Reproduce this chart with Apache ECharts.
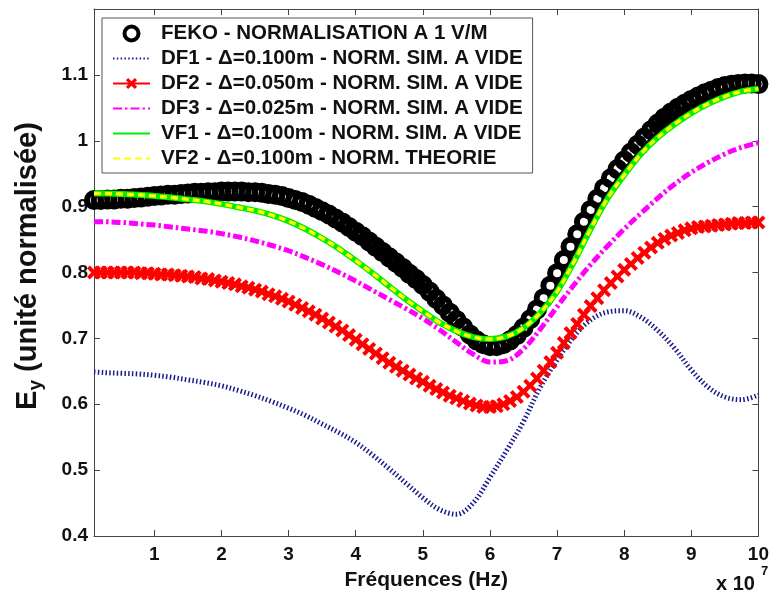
<!DOCTYPE html>
<html>
<head>
<meta charset="utf-8">
<script src="https://cdn.jsdelivr.net/npm/echarts@6/dist/echarts.min.js"></script>
<style>html,body{margin:0;padding:0;background:#fff}#c{width:772px;height:596px}</style>
</head>
<body>
<div id="c"></div>
<script>
// x in units of 1e7 Hz
const fekoX = [0.1,0.2,0.3,0.4,0.5,0.6,0.7,0.8,0.9,1.0,1.1,1.2,1.3,1.4,1.5,1.6,1.7,1.8,1.9,2.0,2.1,2.2,2.3,2.4,2.5,2.6,2.7,2.8,2.9,3.0,3.1,3.2,3.3,3.4,3.5,3.6,3.7,3.8,3.9,4.0,4.1,4.2,4.3,4.4,4.5,4.6,4.7,4.8,4.9,5.0,5.1,5.2,5.3,5.4,5.5,5.6,5.7,5.8,5.9,6.0,6.1,6.2,6.3,6.4,6.5,6.6,6.7,6.8,6.9,7.0,7.1,7.2,7.3,7.4,7.5,7.6,7.7,7.8,7.9,8.0,8.1,8.2,8.3,8.4,8.5,8.6,8.7,8.8,8.9,9.0,9.1,9.2,9.3,9.4,9.5,9.6,9.7,9.8,9.9,10.0];
const fekoValues = [0.910,0.910,0.911,0.911,0.912,0.912,0.913,0.914,0.915,0.916,0.917,0.918,0.918,0.919,0.920,0.921,0.921,0.922,0.922,0.923,0.923,0.923,0.923,0.922,0.922,0.921,0.919,0.918,0.916,0.913,0.910,0.907,0.903,0.898,0.893,0.888,0.882,0.876,0.869,0.862,0.855,0.847,0.839,0.831,0.823,0.815,0.807,0.798,0.790,0.781,0.771,0.760,0.750,0.739,0.728,0.717,0.706,0.697,0.691,0.688,0.688,0.691,0.697,0.705,0.716,0.729,0.744,0.761,0.780,0.799,0.819,0.839,0.858,0.877,0.895,0.912,0.928,0.943,0.957,0.970,0.982,0.994,1.005,1.016,1.026,1.035,1.043,1.050,1.056,1.062,1.067,1.072,1.076,1.080,1.083,1.085,1.086,1.087,1.087,1.086];
const df2Values = [0.800,0.800,0.800,0.800,0.800,0.800,0.800,0.799,0.799,0.798,0.797,0.797,0.796,0.795,0.794,0.793,0.791,0.790,0.788,0.786,0.784,0.782,0.779,0.777,0.774,0.771,0.767,0.764,0.760,0.756,0.751,0.746,0.741,0.736,0.730,0.724,0.718,0.712,0.705,0.698,0.691,0.684,0.677,0.670,0.663,0.657,0.651,0.645,0.639,0.634,0.628,0.623,0.618,0.613,0.609,0.605,0.601,0.598,0.596,0.596,0.597,0.600,0.605,0.611,0.619,0.628,0.639,0.651,0.664,0.678,0.693,0.708,0.722,0.736,0.749,0.761,0.773,0.784,0.794,0.804,0.813,0.822,0.830,0.838,0.845,0.851,0.856,0.860,0.864,0.867,0.869,0.870,0.871,0.872,0.873,0.874,0.875,0.875,0.876,0.876];

const lineX = [0.1,0.25,0.5,0.75,1,1.25,1.5,1.75,2,2.25,2.5,2.75,3,3.25,3.5,3.75,4,4.25,4.5,4.75,5,5.25,5.5,5.75,6,6.25,6.5,6.75,7,7.25,7.5,7.75,8,8.25,8.5,8.75,9,9.25,9.5,9.75,10];
const df1Values = [0.649,0.648,0.647,0.646,0.644,0.641,0.637,0.633,0.628,0.621,0.613,0.604,0.594,0.583,0.570,0.557,0.542,0.523,0.502,0.480,0.458,0.440,0.433,0.450,0.489,0.530,0.574,0.626,0.667,0.703,0.728,0.740,0.742,0.732,0.712,0.685,0.652,0.626,0.611,0.607,0.614];
const df3Values = [0.877,0.877,0.876,0.874,0.872,0.869,0.866,0.863,0.859,0.854,0.848,0.841,0.833,0.823,0.812,0.800,0.787,0.773,0.759,0.745,0.730,0.713,0.694,0.676,0.664,0.666,0.684,0.714,0.748,0.781,0.812,0.840,0.866,0.890,0.913,0.934,0.952,0.967,0.980,0.990,0.997];
const vf1Values = [0.920,0.920,0.919,0.918,0.916,0.914,0.911,0.908,0.904,0.899,0.894,0.887,0.878,0.866,0.852,0.836,0.818,0.799,0.779,0.759,0.741,0.724,0.711,0.702,0.699,0.703,0.716,0.739,0.771,0.816,0.866,0.912,0.948,0.980,1.005,1.025,1.042,1.056,1.067,1.075,1.079];
const vf2Values = [0.920,0.920,0.919,0.918,0.916,0.914,0.911,0.908,0.904,0.899,0.894,0.887,0.878,0.866,0.852,0.836,0.818,0.799,0.779,0.759,0.741,0.724,0.711,0.702,0.699,0.703,0.716,0.739,0.771,0.816,0.866,0.912,0.948,0.980,1.005,1.025,1.042,1.056,1.067,1.075,1.079];

const seriesNames = [
  'FEKO - NORMALISATION A 1 V/M',
  'DF1 - \u0394=0.100m - NORM. SIM. A VIDE',
  'DF2 - \u0394=0.050m - NORM. SIM. A VIDE',
  'DF3 - \u0394=0.025m - NORM. SIM. A VIDE',
  'VF1 - \u0394=0.100m - NORM. SIM. A VIDE',
  'VF2 - \u0394=0.100m - NORM. THEORIE'
];
const xTicks = [1,2,3,4,5,6,7,8,9,10];
const xLabel = 'Fréquences (Hz)';
const yLabelMain = 'E';
const yLabelSub = 'y';
const yLabelRest = ' (unité normalisée)';

const FONT = '"Liberation Sans", Arial, Helvetica, sans-serif';
const zip = (xs, ys) => xs.map((x, i) => [x, ys[i]]);
const xPath = 'path://M0,2L2,0L5,3L8,0L10,2L7,5L10,8L8,10L5,7L2,10L0,8L3,5Z';

const chart = echarts.init(document.getElementById('c'), null, {renderer: 'canvas'});
const axisCol = '#444';
const hideSym = {opacity: 0};
const option = {
  animation: false,
  backgroundColor: '#fff',
  grid: {left: 94, right: 10, top: 9, bottom: 60, containLabel: false},
  xAxis: [{
    type: 'value', min: 0.1, max: 10, position: 'bottom',
    name: xLabel, nameLocation: 'middle', nameGap: 34,
    nameTextStyle: {fontFamily: FONT, fontWeight: 'bold', fontSize: 21, color: '#111'},
    axisLine: {lineStyle: {color: axisCol, width: 1}},
    axisTick: {inside: true, length: 6, lineStyle: {color: axisCol}, customValues: xTicks},
    axisLabel: {customValues: xTicks, fontFamily: FONT, fontWeight: 'bold', fontSize: 19, color: '#111', margin: 9},
    splitLine: {show: false}
  }, {
    type: 'value', min: 0.1, max: 10, position: 'top',
    axisLine: {lineStyle: {color: axisCol, width: 1}},
    axisTick: {inside: true, length: 6, lineStyle: {color: axisCol}, customValues: xTicks},
    axisLabel: {show: false}, splitLine: {show: false}
  }],
  yAxis: [{
    type: 'value', min: 0.4, max: 1.2, interval: 0.1, position: 'left',
    axisLine: {show: true, lineStyle: {color: axisCol, width: 1}},
    axisTick: {show: true, inside: true, length: 6, lineStyle: {color: axisCol}},
    axisLabel: {fontFamily: FONT, fontWeight: 'bold', fontSize: 19, color: '#111', margin: 6,
      showMaxLabel: false,
      formatter: v => (Math.abs(v - 1.2) < 1e-6 ? '' : String(parseFloat(v.toFixed(2))))},
    splitLine: {show: false}
  }, {
    type: 'value', min: 0.4, max: 1.2, interval: 0.1, position: 'right',
    axisLine: {show: true, lineStyle: {color: axisCol, width: 1}},
    axisTick: {show: true, inside: true, length: 6, lineStyle: {color: axisCol}},
    axisLabel: {show: false}, splitLine: {show: false}
  }],
  legend: {
    orient: 'vertical', left: 102, top: 18,
    itemWidth: 37, itemHeight: 14, itemGap: 4,
    padding: [5, 10, 4, 10],
    borderColor: '#555', borderWidth: 1, backgroundColor: '#fff',
    textStyle: {fontFamily: FONT, fontWeight: 'bold', fontSize: 20.5, color: '#111', lineHeight: 20.2, padding: [0, 0, 0, 6]},
    data: [
      {name: seriesNames[0], icon: 'circle', itemStyle: {borderWidth: 4, borderColor: '#000', color: '#fff'}},
      {name: seriesNames[1], itemStyle: hideSym},
      {name: seriesNames[2]},
      {name: seriesNames[3], itemStyle: hideSym},
      {name: seriesNames[4], itemStyle: hideSym},
      {name: seriesNames[5], itemStyle: hideSym}
    ]
  },
  series: [
    {
      name: seriesNames[0], type: 'scatter', data: zip(fekoX, fekoValues),
      symbol: 'circle', symbolSize: 14,
      itemStyle: {color: 'rgba(0,0,0,0)', borderColor: '#000', borderWidth: 6, opacity: 1},
      emphasis: {disabled: true}, z: 2
    },
    {
      name: seriesNames[1], type: 'line', data: zip(lineX, df1Values),
      symbol: 'none', smooth: 0.35,
      lineStyle: {color: '#1c1c8c', width: 5, type: [1.5, 2.3]},
      itemStyle: {color: '#1c1c8c'}, emphasis: {disabled: true}, z: 3
    },
    {
      name: seriesNames[2], type: 'line', data: zip(fekoX, df2Values),
      symbol: xPath, symbolSize: 14, showSymbol: true,
      lineStyle: {color: '#ff0000', width: 3.5},
      itemStyle: {color: '#ff0000'}, emphasis: {disabled: true}, z: 3
    },
    {
      name: seriesNames[3], type: 'line', data: zip(lineX, df3Values),
      symbol: 'none', smooth: 0.35,
      lineStyle: {color: '#ff00ff', width: 5, type: [9, 3, 2.5, 3]},
      itemStyle: {color: '#ff00ff'}, emphasis: {disabled: true}, z: 3
    },
    {
      name: seriesNames[4], type: 'line', data: zip(lineX, vf1Values),
      symbol: 'none', smooth: 0.35,
      lineStyle: {color: '#00ee00', width: 6},
      itemStyle: {color: '#00ee00'}, emphasis: {disabled: true}, z: 3
    },
    {
      name: seriesNames[5], type: 'line', data: zip(lineX, vf2Values),
      symbol: 'none', smooth: 0.35,
      lineStyle: {color: '#ffff00', width: 3.5, type: [7, 4]},
      itemStyle: {color: '#ffff00'}, emphasis: {disabled: true}, z: 3
    }
  ],
  graphic: [
    {type: 'group', x: 28, y: 410, rotation: Math.PI / 2, children: [
      {type: 'text', x: 0, y: 0, style: {text: yLabelMain, font: 'bold 29px ' + FONT, fill: '#111', align: 'left', verticalAlign: 'middle'}},
      {type: 'text', x: 19.5, y: 8, style: {text: yLabelSub, font: 'bold 19px ' + FONT, fill: '#111', align: 'left', verticalAlign: 'middle'}},
      {type: 'text', x: 30, y: 0, style: {text: yLabelRest, font: 'bold 29px ' + FONT, fill: '#111', align: 'left', verticalAlign: 'middle'}}
    ]},
    {type: 'text', left: 716, top: 574, style: {text: 'x 10', font: 'bold 20px ' + FONT, fill: '#111'}},
    {type: 'text', left: 761, top: 565, style: {text: '7', font: 'bold 13px ' + FONT, fill: '#111'}}
  ]
};
chart.setOption(option);
</script>
</body>
</html>
